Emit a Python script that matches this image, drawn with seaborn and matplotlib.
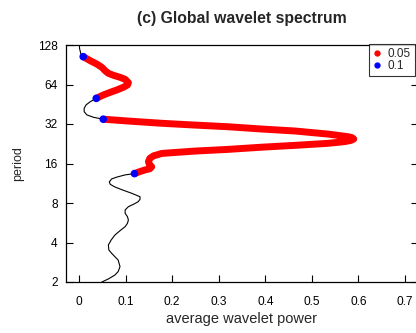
import matplotlib
matplotlib.use("Agg")
import matplotlib.pyplot as plt
from matplotlib.lines import Line2D
from matplotlib.ticker import FixedLocator, FixedFormatter, NullLocator
import seaborn as sns
import pandas as pd

# ---- data ----
power = [0.001, 0.001, 0.004, 0.009, 0.024, 0.038, 0.049, 0.056, 0.063, 0.074,
         0.088, 0.099, 0.106, 0.104, 0.095, 0.081, 0.067, 0.052, 0.037, 0.024,
         0.015, 0.011, 0.011, 0.017, 0.031, 0.052, 0.077, 0.106, 0.178, 0.249,
         0.320, 0.392, 0.464, 0.535, 0.578, 0.586, 0.590, 0.584, 0.571, 0.535,
         0.464, 0.392, 0.320, 0.249, 0.178, 0.160, 0.152, 0.149, 0.151, 0.156,
         0.152, 0.142, 0.131, 0.119, 0.099, 0.081, 0.070, 0.065, 0.067, 0.077,
         0.092, 0.113, 0.131, 0.131, 0.127, 0.117, 0.106, 0.099, 0.099, 0.104,
         0.106, 0.104, 0.099, 0.088, 0.077, 0.069, 0.063, 0.064, 0.070, 0.084,
         0.088, 0.084, 0.077, 0.063, 0.049]
period = [128.0, 120.9, 109.3, 104.3, 97.2, 91.7, 86.5, 81.5, 77.9, 75.2,
          72.6, 70.1, 66.1, 63.4, 60.9, 58.1, 55.8, 53.2, 50.2, 47.3,
          44.7, 42.1, 39.7, 37.5, 36.0, 34.8, 34.3, 33.7, 32.4, 31.4,
          30.5, 29.3, 28.3, 26.8, 25.6, 25.2, 24.6, 24.0, 23.5, 22.8,
          22.0, 21.3, 20.5, 19.9, 19.1, 18.3, 17.5, 16.5, 15.8, 15.1,
          14.6, 14.3, 13.9, 13.4, 13.1, 12.6, 12.2, 11.6, 11.1, 10.6,
          10.1, 9.49, 8.93, 8.54, 8.18, 7.82, 7.50, 7.08, 6.68, 6.29,
          5.94, 5.60, 5.28, 4.92, 4.56, 4.18, 3.83, 3.51, 3.31, 2.94,
          2.62, 2.40, 2.26, 2.11, 2.0]
# significance level per point: "" none, "0.1" (blue), "0.05" (red)
sig = ([""] * 3 + ["0.1"] + ["0.05"] * 14 + ["0.1"] + [""] * 6 + ["0.1"]
       + ["0.05"] * 27 + ["0.1"] + [""] * 31)

x_ticks = [0, 0.1, 0.2, 0.3, 0.4, 0.5, 0.6, 0.7]
x_tick_labels = ["0", "0.1", "0.2", "0.3", "0.4", "0.5", "0.6", "0.7"]
y_ticks = [2, 4, 8, 16, 32, 64, 128]
y_tick_labels = ["2", "4", "8", "16", "32", "64", "128"]
legend_labels = ["0.05", "0.1"]
title = "(c) Global wavelet spectrum"
xlabel = "average wavelet power"
ylabel = "period"

df = pd.DataFrame({"power": power, "period": period, "sig": sig})

# ---- style ----
sns.set_style("ticks")
plt.rcParams["font.family"] = ["Liberation Sans", "DejaVu Sans"]

W, H = 416, 333
fig = plt.figure(figsize=(W / 100, H / 100), dpi=100)
ax = fig.add_axes([66 / W, 51 / H, 352 / W, 237 / H])

# full curve, thin black
sns.lineplot(data=df, x="power", y="period", sort=False, estimator=None,
             color="black", linewidth=0.8, ax=ax, zorder=2)

# significant runs, thick red
mask = df["sig"] != ""
run_id = (mask != mask.shift()).cumsum()
for _, g in df[mask].groupby(run_id[mask]):
    sns.lineplot(data=g, x="power", y="period", sort=False, estimator=None,
                 color="#ff0000", linewidth=5.0, solid_capstyle="butt",
                 solid_joinstyle="round", ax=ax, zorder=3)

# blue end points
blue = df[df["sig"] == "0.1"]
sns.scatterplot(data=blue, x="power", y="period", color="#0000ff", s=30,
                edgecolor="none", ax=ax, zorder=4)

ax.set_yscale("log", base=2)
ax.set_xlim(-0.028, 0.728)
ax.set_ylim(2, 128)
ax.yaxis.set_major_locator(FixedLocator(y_ticks))
ax.yaxis.set_major_formatter(FixedFormatter(y_tick_labels))
ax.yaxis.set_minor_locator(NullLocator())
ax.xaxis.set_major_locator(FixedLocator(x_ticks))
ax.xaxis.set_major_formatter(FixedFormatter(x_tick_labels))

for s in ax.spines.values():
    s.set_visible(True)
    s.set_linewidth(0.9)
    s.set_color("black")

ax.tick_params(axis="both", direction="in", length=5, width=0.8,
               labelsize=8.6, colors="black")
ax.tick_params(axis="y", right=True, pad=6)
ax.tick_params(axis="x", pad=10)

ax.set_xlabel(xlabel, fontsize=10.5, labelpad=3)
ax.set_ylabel(ylabel, fontsize=9, labelpad=10)
ax.set_title(title, fontsize=11.3, fontweight="bold", pad=16)

handles = [Line2D([], [], marker="o", linestyle="none", color="#ff0000",
                  markersize=3.5),
           Line2D([], [], marker="o", linestyle="none", color="#0000ff",
                  markersize=3.5)]
leg = fig.legend(handles, legend_labels, loc="upper left",
                 bbox_to_anchor=(369 / W, 1 - 43.5 / H), fontsize=8.5,
                 frameon=True, fancybox=False, borderpad=0.35,
                 labelspacing=0.0, handlelength=0.7, handletextpad=0.55,
                 borderaxespad=0)
leg.get_frame().set_edgecolor("black")
leg.get_frame().set_linewidth(0.8)

fig.savefig("out.png", dpi=100)
